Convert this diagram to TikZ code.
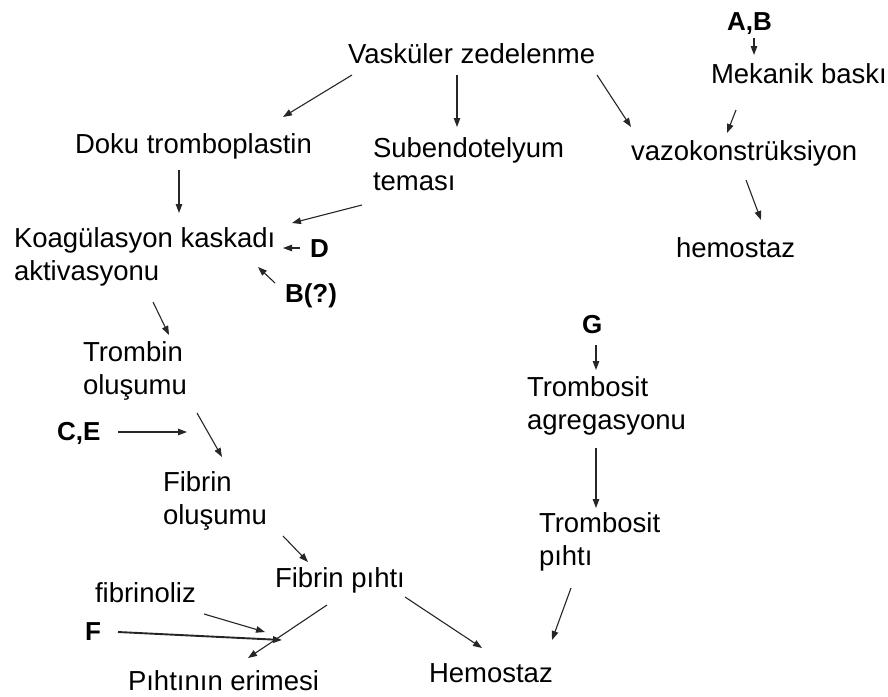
\documentclass[tikz,border=0pt]{standalone}
\usepackage{fontspec}
\setmainfont{Liberation Sans}
\usetikzlibrary{arrows.meta}
\begin{document}
\begin{tikzpicture}[x=1pt,y=-1pt,
  txt/.style={inner sep=0pt,outer sep=0pt,font=\fontsize{27.5}{33}\selectfont,align=left},
  lab/.style={inner sep=0pt,outer sep=0pt,font=\fontsize{26}{30}\selectfont\bfseries},
  arr/.style={draw=black!85,line width=1.1pt,-{Triangle[length=9pt,width=6.5pt]}},
  thickarr/.style={arr,line width=1.9pt}]
\useasboundingbox[fill=white] (0,0) rectangle (888,696);
% nodes
\node[txt,anchor=base west] (vasc) at (348,63) {Vasküler zedelenme};
\node[txt,anchor=base west] (doku) at (75,153) {Doku tromboplastin};
\node[txt,anchor=north west] (sub) at (373,138) {Subendotelyum\\teması};
\node[txt,anchor=base west] (vazo) at (631,160) {vazokonstrüksiyon};
\node[txt,anchor=base west] (mek) at (711,83) {Mekanik baskı};
\node[lab,anchor=base west] (ab) at (727,30) {A,B};
\node[txt,anchor=base west] (hemo1) at (676,257) {hemostaz};
\node[txt,anchor=north west] (koag) at (14,228) {Koagülasyon kaskadı\\aktivasyonu};
\node[lab,anchor=base west] (D) at (310,257) {D};
\node[lab,anchor=base west] (Bq) at (285,302) {B(?)};
\node[txt,anchor=north west] (trombin) at (83,342) {Trombin\\oluşumu};
\node[lab,anchor=base west] (CE) at (57,440) {C,E};
\node[txt,anchor=north west] (fibrin) at (163,472) {Fibrin\\oluşumu};
\node[lab,anchor=base west] (G) at (582,333) {G};
\node[txt,anchor=north west] (tagg) at (527,377) {Trombosit\\agregasyonu};
\node[txt,anchor=north west] (tpiht) at (539,513) {Trombosit\\pıhtı};
\node[txt,anchor=base west] (fpiht) at (275,587) {Fibrin pıhtı};
\node[txt,anchor=base west] (fibrinoliz) at (95,602) {fibrinoliz};
\node[lab,anchor=base west] (F) at (85,640) {F};
\node[txt,anchor=base west] (erime) at (128,690) {Pıhtının erimesi};
\node[txt,anchor=base west] (hemo2) at (429,682) {Hemostaz};
% connectors
\draw[arr] ([shift={(4,12)}]vasc.base west) -- ([shift={(208,-36)}]doku.base west);
\draw[arr] ([shift={(109,12)}]vasc.base west) -- ([shift={(84,-11)}]sub.north west);
\draw[arr] ([shift={(249,12)}]vasc.base west) -- ([shift={(0,-33)}]vazo.base west);
\draw[arr] ([shift={(27,8)}]ab.base west) -- ([shift={(43,-28)}]mek.base west);
\draw[arr] ([shift={(25,27)}]mek.base west) -- ([shift={(96,-27)}]vazo.base west);
\draw[arr] ([shift={(115,20)}]vazo.base west) -- ([shift={(85,-37)}]hemo1.base west);
\draw[arr] ([shift={(104,17)}]doku.base west) -- ([shift={(165,-15)}]koag.north west);
\draw[arr] ([shift={(-11,67)}]sub.north west) -- ([shift={(278,-5)}]koag.north west);
\draw[arr] ([shift={(-10,-9)}]D.base west) -- ([shift={(269,20)}]koag.north west);
\draw[arr] ([shift={(-10,-19)}]Bq.base west) -- ([shift={(244,39)}]koag.north west);
\draw[arr] ([shift={(139,74)}]koag.north west) -- ([shift={(86,-7)}]trombin.north west);
\draw[arr] ([shift={(61,-8)}]CE.base west) -- ([shift={(24,-40)}]fibrin.north west);
\draw[arr] ([shift={(114,71)}]trombin.north west) -- ([shift={(59,-15)}]fibrin.north west);
\draw[arr] ([shift={(120,64)}]fibrin.north west) -- ([shift={(33,-25)}]fpiht.base west);
\draw[arr] ([shift={(52,18)}]fpiht.base west) -- ([shift={(120,-32)}]erime.base west);
\draw[arr] ([shift={(130,10)}]fpiht.base west) -- ([shift={(53,-34)}]hemo2.base west);
\draw[arr] ([shift={(109,12)}]fibrinoliz.base west) -- ([shift={(137,-58)}]erime.base west);
\draw[thickarr] ([shift={(33,-8)}]F.base west) -- ([shift={(154,-50)}]erime.base west);
\draw[arr] ([shift={(14,12)}]G.base west) -- ([shift={(69,-7)}]tagg.north west);
\draw[arr] ([shift={(69,71)}]tagg.north west) -- ([shift={(57,-5)}]tpiht.north west);
\draw[arr] ([shift={(32,75)}]tpiht.north west) -- ([shift={(123,-42)}]hemo2.base west);
\end{tikzpicture}
\end{document}
